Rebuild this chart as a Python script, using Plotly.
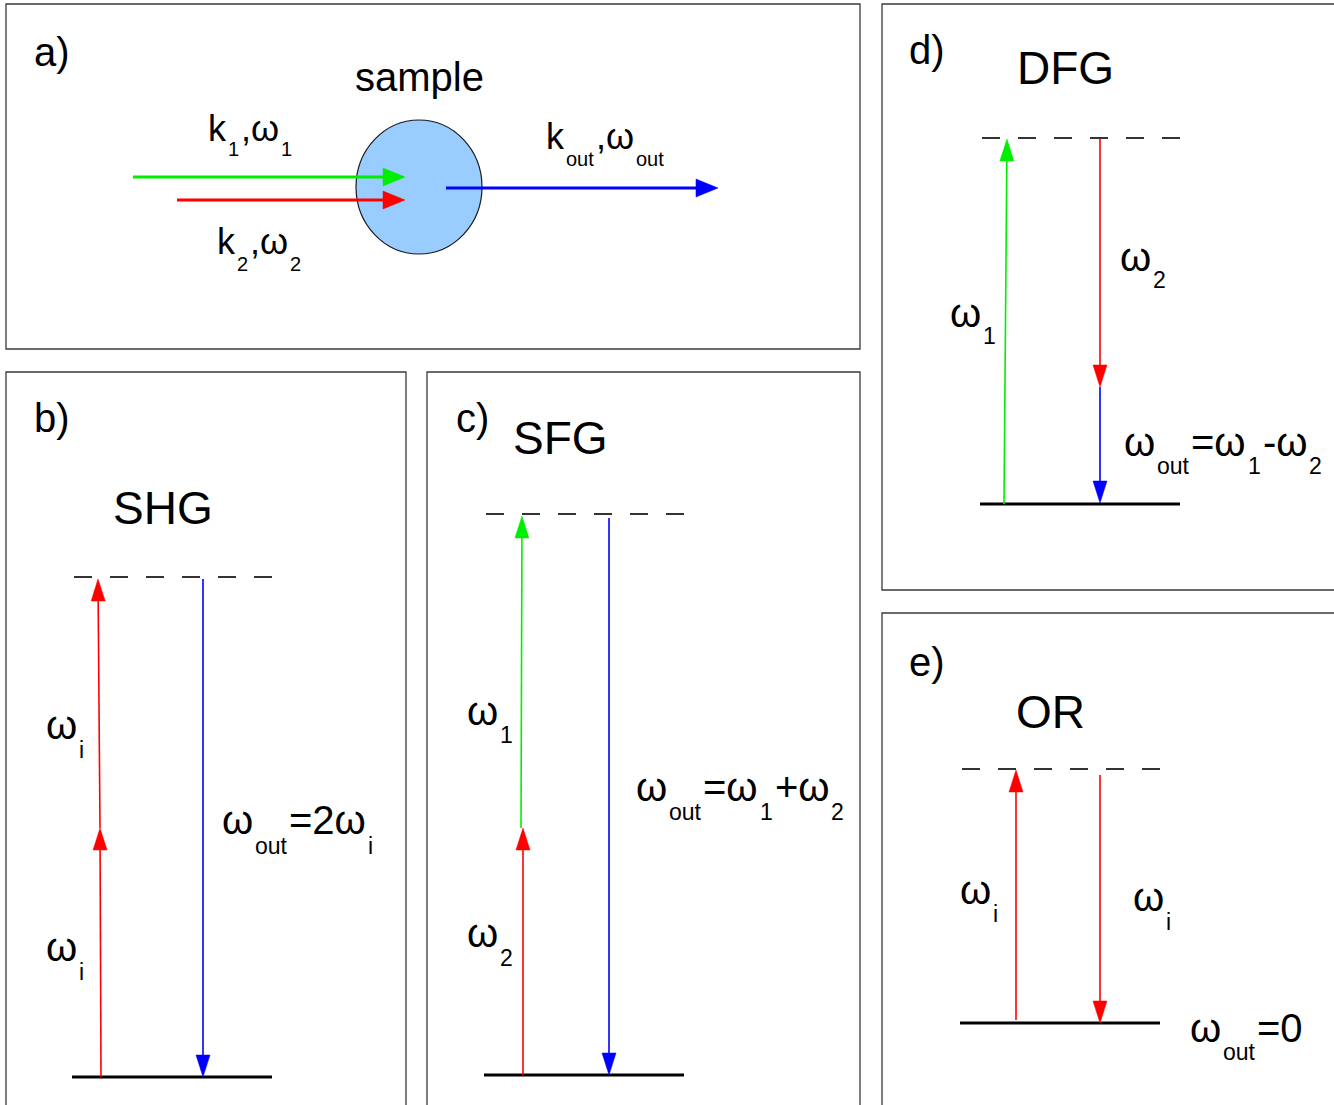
import math
import re
import plotly.graph_objects as go

W, H = 1334, 1105
FONT = "Liberation Sans, Arial, sans-serif"

# ---------------- data (diagram geometry, pixel units) ----------------
panel_names = ["a", "b", "c", "d", "e"]
panel_boxes = [(6, 4, 860, 349), (6, 372, 406, 1112), (427, 372, 860, 1112),
               (882, 4, 1340, 590), (882, 613, 1340, 1112)]
panel_letter_pos = [(52, 52), (52, 418), (472, 418), (927, 50), (927, 662)]

process_names = ["SHG", "SFG", "DFG", "OR"]
process_title_pos = [(163, 508), (560, 438), (1065, 68), (1050, 712)]

# energy levels: (x0, x1, y) ; virtual level dashed, ground level solid
virtual_levels = [(74, 274, 577), (486, 686, 514), (982, 1182, 138), (962, 1162, 769)]
ground_levels = [(72, 272, 1077), (484, 684, 1075), (980, 1180, 504), (960, 1160, 1023)]

GREEN, RED, BLUE = "#00ee00", "#ff0000", "#0000ff"
# transitions: (x_start, y_start, x_end, y_end, colour)
transitions = [
    (101, 1077, 100, 828, RED), (100, 828, 98, 579, RED), (203, 579, 203, 1077, BLUE),
    (523, 1075, 523, 828, RED), (521, 828, 522, 516, GREEN), (609, 518, 609, 1075, BLUE),
    (1004, 504, 1007, 139, GREEN), (1100, 139, 1100, 387, RED), (1100, 387, 1100, 503, BLUE),
    (1016, 1020, 1016, 770, RED), (1100, 775, 1100, 1023, RED),
]

# panel a: beams and sample
beams = [(133, 177, 405, 177, GREEN), (177, 200, 405, 200, RED), (446, 188, 718, 188, BLUE)]
sample_ellipse = (356, 120, 482, 254)
sample_label_pos = (419, 77)

# frequency labels: (text, left x, baseline y, subscript baseline y, font size, sub size)
freq_labels = [
    ("k<sub>1</sub>,ω<sub>1</sub>", 208, 141, 156, 36, 20),
    ("k<sub>2</sub>,ω<sub>2</sub>", 217, 254, 271, 36, 20),
    ("k<sub>out</sub>,ω<sub>out</sub>", 546, 149, 166, 36, 20),
    ("ω<sub>i</sub>", 46, 739, 758, 40, 23),
    ("ω<sub>i</sub>", 46, 961, 980, 40, 23),
    ("ω<sub>out</sub>=2ω<sub>i</sub>", 222, 834, 854, 40, 23),
    ("ω<sub>1</sub>", 467, 725, 743, 40, 23),
    ("ω<sub>2</sub>", 467, 947, 966, 40, 23),
    ("ω<sub>out</sub>=ω<sub>1</sub>+ω<sub>2</sub>", 636, 801, 820, 40, 23),
    ("ω<sub>1</sub>", 950, 327, 344, 40, 23),
    ("ω<sub>2</sub>", 1120, 271, 288, 40, 23),
    ("ω<sub>out</sub>=ω<sub>1</sub>-ω<sub>2</sub>", 1124, 456, 474, 40, 23),
    ("ω<sub>i</sub>", 960, 904, 922, 40, 23),
    ("ω<sub>i</sub>", 1133, 911, 930, 40, 23),
    ("ω<sub>out</sub>=0", 1190, 1042, 1060, 40, 23),
]

# ---------------- build figure ----------------
shapes = []
annotations = []

ADV = {"k": 0.5, "o": 0.556, "u": 0.556, "t": 0.278, ",": 0.278, "=": 0.584,
       "+": 0.584, "-": 0.333, "i": 0.222, "ω": 0.78}
MID = 0.3465  # baseline offset of box middle, in em (Liberation Sans)


def adv(t, size):
    return sum(ADV.get(ch, 0.556) for ch in t) * size


def arrow(x0, y0, x1, y1, color, width, head_len, head_half):
    dx, dy = x1 - x0, y1 - y0
    L = math.hypot(dx, dy)
    ux, uy = dx / L, dy / L
    nx, ny = -uy, ux
    bx, by = x1 - ux * head_len, y1 - uy * head_len
    shapes.append(dict(type="line", x0=x0, y0=y0, x1=bx, y1=by,
                       line=dict(color=color, width=width), layer="above"))
    p = (f"M {x1},{y1} L {bx + nx * head_half},{by + ny * head_half} "
         f"L {bx - nx * head_half},{by - ny * head_half} Z")
    shapes.append(dict(type="path", path=p, fillcolor=color,
                       line=dict(color=color, width=0.5), layer="above"))


def text_at(x, y, txt, size, xanchor="left"):
    annotations.append(dict(x=x, y=y, text=txt, showarrow=False,
                            font=dict(family=FONT, size=size, color="black"),
                            xanchor=xanchor, yanchor="middle", borderpad=0, borderwidth=0))


for (x0, y0, x1, y1) in panel_boxes:
    shapes.append(dict(type="rect", x0=x0, y0=y0, x1=x1, y1=y1,
                       line=dict(color="#3a3a3a", width=1.3), fillcolor="rgba(0,0,0,0)"))

ex0, ey0, ex1, ey1 = sample_ellipse
shapes.append(dict(type="circle", x0=ex0, y0=ey0, x1=ex1, y1=ey1,
                   fillcolor="#99ccff", line=dict(color="#1a1a1a", width=1.2)))

for (x0, y0, x1, y1, c) in beams:
    arrow(x0, y0, x1, y1, c, 3, 22, 9)

for (x0, x1, y) in virtual_levels:
    shapes.append(dict(type="line", x0=x0, x1=x1, y0=y, y1=y,
                       line=dict(color="#333333", width=1.8, dash="18px,18px")))
for (x0, x1, y) in ground_levels:
    shapes.append(dict(type="line", x0=x0, x1=x1, y0=y, y1=y,
                       line=dict(color="#000000", width=3)))

for (x0, y0, x1, y1, c) in transitions:
    arrow(x0, y0, x1, y1, c, 1.6, 22, 7)

for name, (x, y) in zip(panel_names, panel_letter_pos):
    text_at(x, y, name + ")", 40, "center")

for name, (x, y) in zip(process_names, process_title_pos):
    text_at(x, y, name, 46, "center")

text_at(sample_label_pos[0], sample_label_pos[1], "sample", 40, "center")

GAP = 2
for (txt, left, base, sub_base, S, s) in freq_labels:
    x = left
    for part in re.split(r"(<sub>.*?</sub>)", txt):
        if not part:
            continue
        if part.startswith("<sub>"):
            seg = part[5:-6]
            x += GAP
            text_at(x, sub_base - MID * s, seg, s)
            x += adv(seg, s) + GAP
        else:
            text_at(x, base - MID * S, part, S)
            x += adv(part, S)

fig = go.Figure()
fig.update_layout(
    width=W, height=H, autosize=False,
    margin=dict(l=0, r=0, t=0, b=0),
    paper_bgcolor="white", plot_bgcolor="white",
    xaxis=dict(range=[0, W], visible=False, fixedrange=True),
    yaxis=dict(range=[H, 0], visible=False, fixedrange=True),
    shapes=shapes, annotations=annotations, showlegend=False,
)
fig.write_html("out.html", config={"displayModeBar": False})
